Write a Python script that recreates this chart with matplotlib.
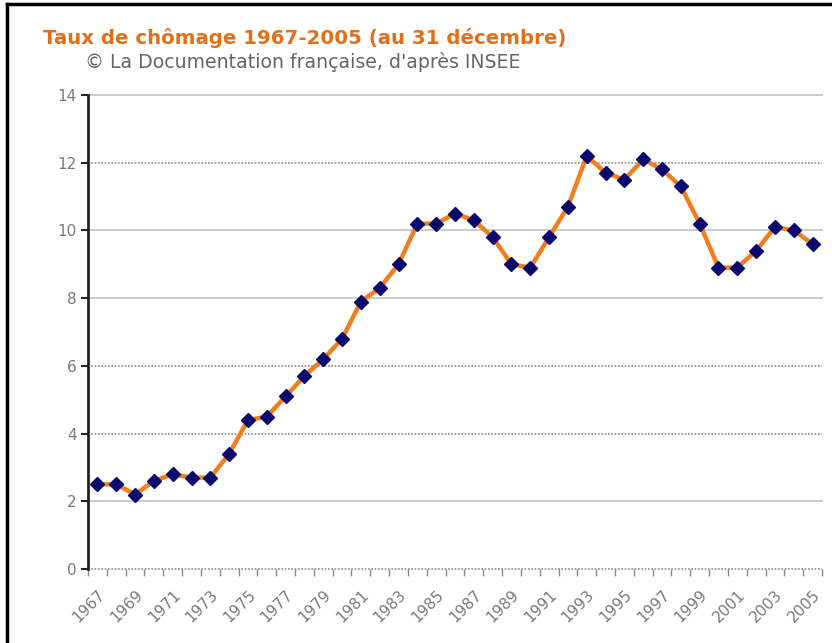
import matplotlib.pyplot as plt
import matplotlib.transforms as mtransforms
from matplotlib.lines import Line2D
import numpy as np

years = list(range(1967, 2006))
taux = [2.5, 2.5, 2.2, 2.6, 2.8, 2.7, 2.7, 3.4, 4.4, 4.5,
        5.1, 5.7, 6.2, 6.8, 7.9, 8.3, 9.0, 10.2, 10.2, 10.5,
        10.3, 9.8, 9.0, 8.9, 9.8, 10.7, 12.2, 11.7, 11.5, 12.1,
        11.8, 11.3, 10.2, 8.9, 8.9, 9.4, 10.1, 10.0, 9.6]
yticks = [0, 2, 4, 6, 8, 10, 12, 14]
dotted_levels = [0, 4, 6, 12]

title = "Taux de chômage 1967-2005 (au 31 décembre)"
source = "© La Documentation française, d'après INSEE"

fig = plt.figure(figsize=(8.32, 6.43), dpi=100)
ax = fig.add_axes([88/832, 74/643, (822-88)/832, (569-95)/643])

x = np.arange(len(years))

# grid lines, some look dotted in the source
for lv in yticks:
    if lv in dotted_levels:
        ax.axhline(lv, color='#8c8c8c', lw=1.2, ls=(0, (1, 1)), zorder=1,
                   clip_on=False)
    else:
        ax.axhline(lv, color='#c8c8c8', lw=1.3, zorder=1, clip_on=False)

ax.plot(x, taux, color='#f07d1e', lw=3.2, zorder=3)
ax.plot(x, taux, ls='none', marker='D', ms=7, color='#0a0a6e', zorder=4)

ax.set_xlim(-0.5, len(years) - 0.5)
ax.set_ylim(0, 14)
ax.set_yticks(yticks)
ax.set_yticklabels([str(v) for v in yticks])

ax.set_xticks(x[::2])
ax.set_xticklabels([str(y) for y in years[::2]], rotation=45, ha='right',
                   va='top', rotation_mode='anchor')
ax.set_xticks(np.arange(len(years) + 1) - 0.5, minor=True)
shift = mtransforms.ScaledTranslation(-10/100, 0, fig.dpi_scale_trans)
for lab in ax.get_xticklabels():
    lab.set_transform(lab.get_transform() + shift)

for s in ['top', 'right', 'bottom']:
    ax.spines[s].set_visible(False)
ax.spines['left'].set_linewidth(2)
ax.spines['left'].set_color('#222222')

ax.tick_params(axis='y', direction='out', length=5, width=1.5, color='#222222',
               labelcolor='#7a7a7a', labelsize=11, pad=3)
ax.tick_params(axis='x', which='major', length=0, labelcolor='#7a7a7a',
               labelsize=11, pad=13)
ax.tick_params(axis='x', which='minor', direction='out', length=5, width=1,
               color='#888888')

fig.text(43/832, 1 - 38/643, title, color='#e0701a', fontsize=14.2,
         fontweight='bold', va='center', ha='left')
fig.text(85/832, 1 - 62/643, source, color='#666666', fontsize=13.6,
         va='center', ha='left')

# frame of the picture (only top and left visible)
fig.add_artist(Line2D([7/832, 7/832], [0, 1 - 4/643], color='black', lw=2.5,
                      transform=fig.transFigure))
fig.add_artist(Line2D([7/832, 1], [1 - 4/643, 1 - 4/643], color='black', lw=2.5,
                      transform=fig.transFigure))

fig.savefig('out.png', dpi=100)
